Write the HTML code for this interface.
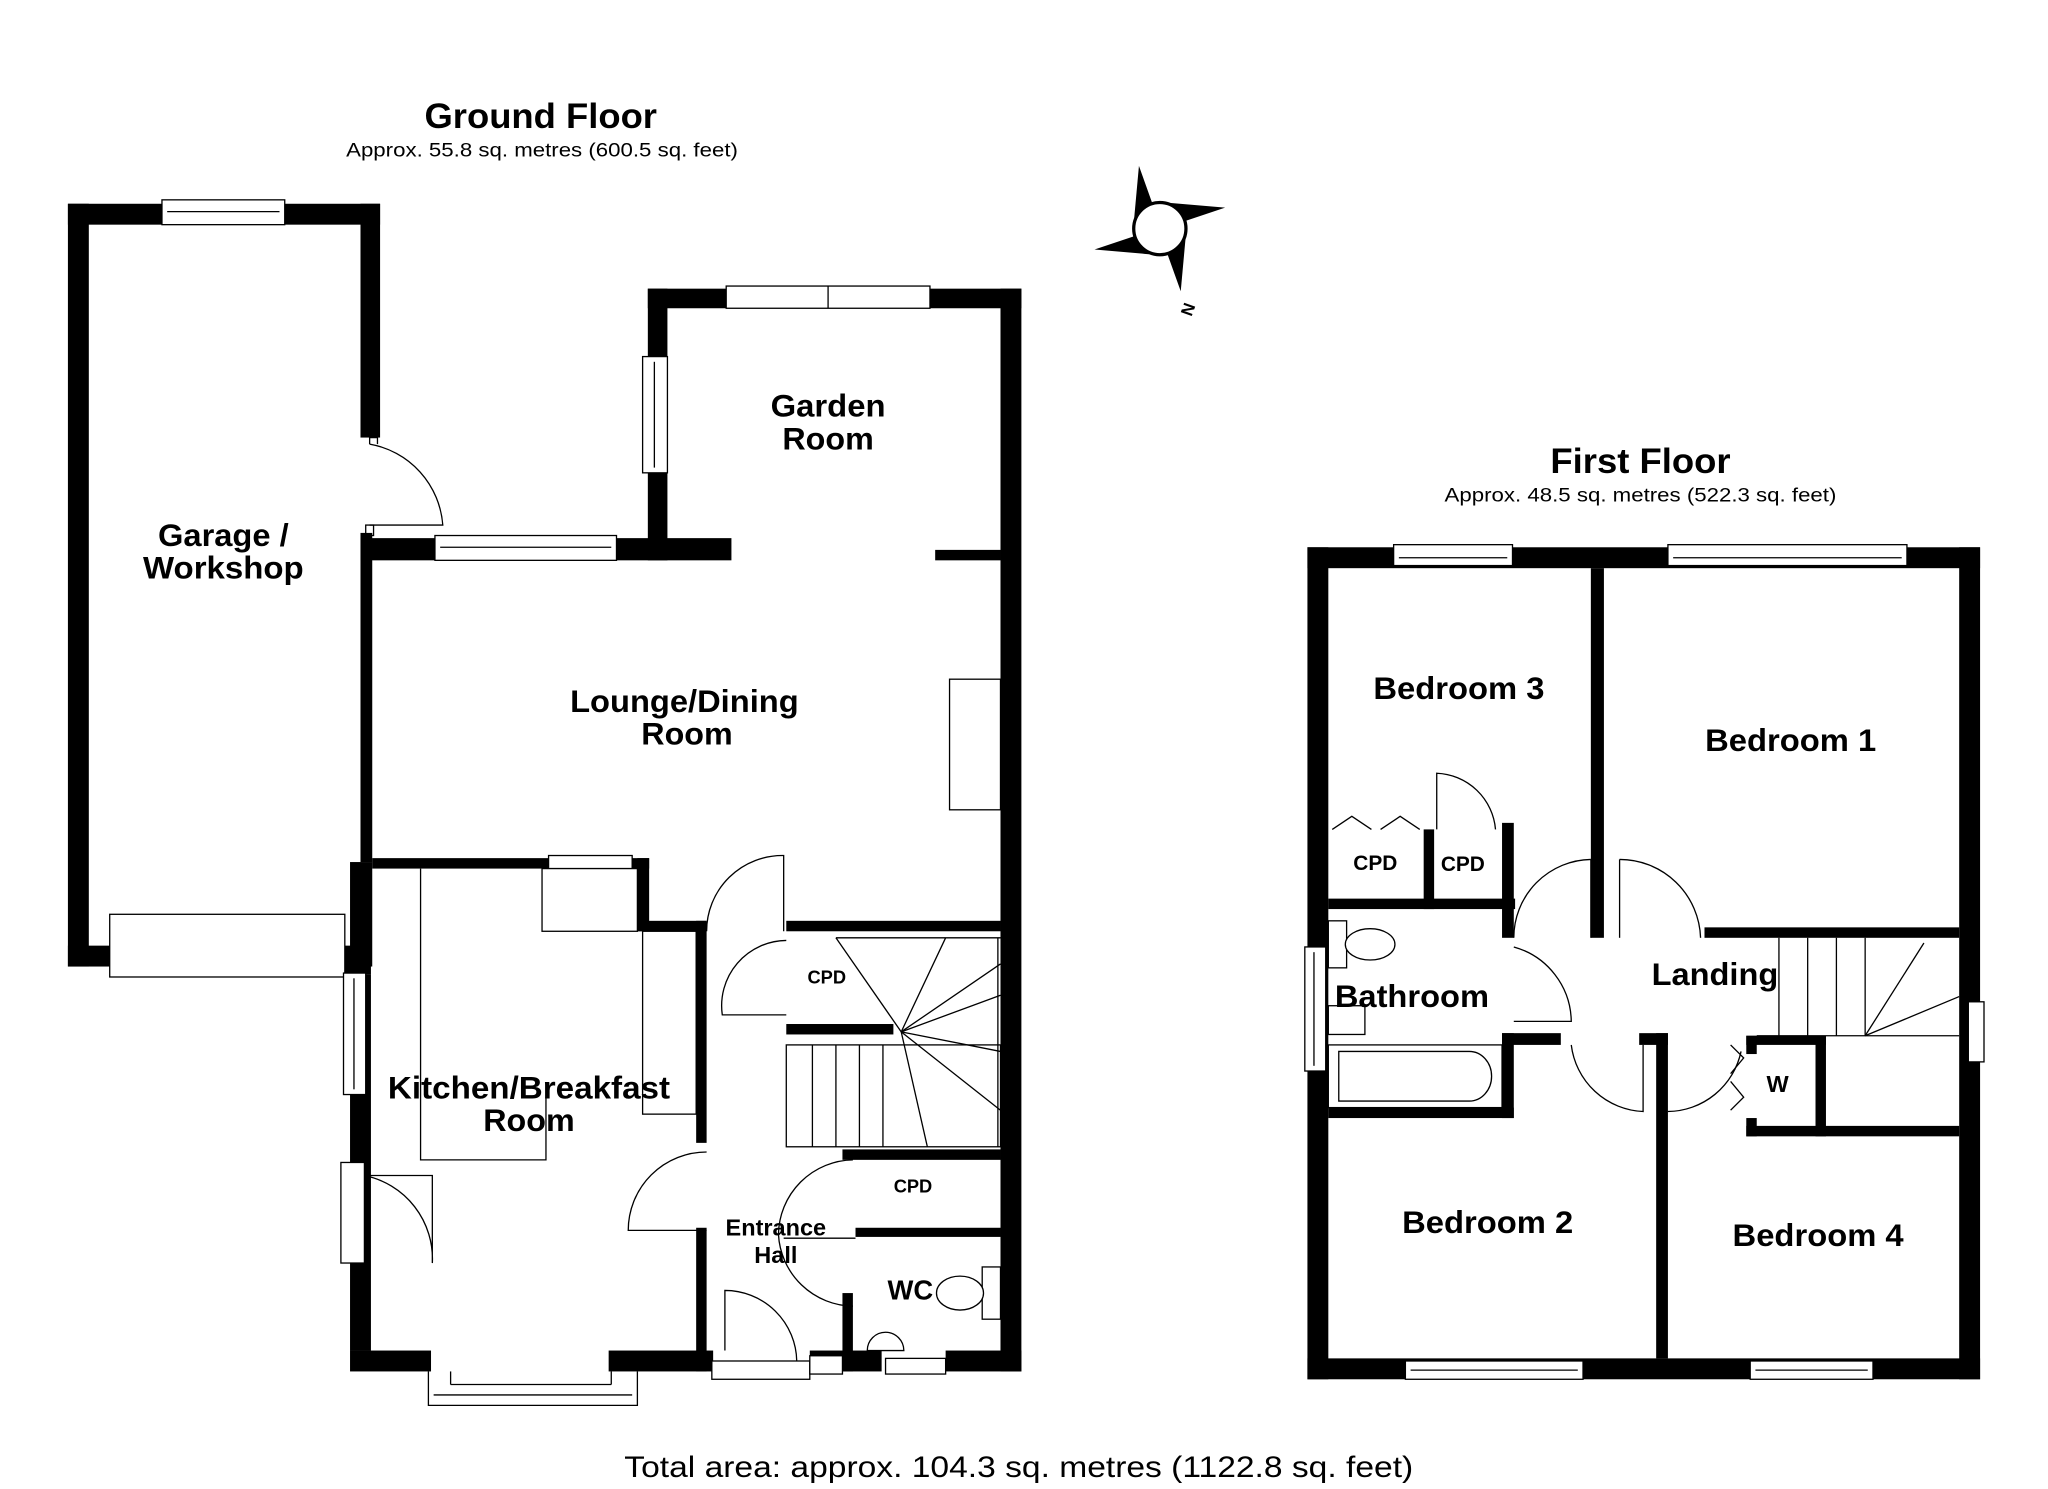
<!DOCTYPE html>
<html><head><meta charset="utf-8"><style>
html,body{margin:0;padding:0;background:#fff;}
svg{display:block;}
text{font-family:"Liberation Sans",Arial,sans-serif;fill:#000;text-anchor:middle;}
.b{font-weight:bold;}
</style></head><body>
<svg width="2048" height="1489" viewBox="0 0 1568 1140" xmlns="http://www.w3.org/2000/svg">
<rect width="1568" height="1140" fill="#fff"/>
<!-- Titles -->
<text x="414" y="98" class="b" font-size="27" textLength="178" lengthAdjust="spacingAndGlyphs">Ground Floor</text>
<text x="415" y="120" font-size="15" textLength="300" lengthAdjust="spacingAndGlyphs">Approx. 55.8 sq. metres (600.5 sq. feet)</text>
<text x="1256" y="362" class="b" font-size="27" textLength="138" lengthAdjust="spacingAndGlyphs">First Floor</text>
<text x="1256" y="384" font-size="15" textLength="300" lengthAdjust="spacingAndGlyphs">Approx. 48.5 sq. metres (522.3 sq. feet)</text>
<text x="780" y="1131" font-size="23" textLength="604" lengthAdjust="spacingAndGlyphs">Total area: approx. 104.3 sq. metres (1122.8 sq. feet)</text>

<!-- Compass -->
<g transform="translate(888,175)">
<polygon points="-16,-48 -6,-20 -20,-4" fill="#000"/>
<polygon points="50,-16 20,-6 4,-20" fill="#000"/>
<polygon points="16,48 6,20 20,4" fill="#000"/>
<polygon points="-50,16 -20,6 -4,20" fill="#000"/>
<circle r="20" fill="#fff" stroke="#000" stroke-width="2.5"/>
<text x="22" y="66" font-size="13" class="b" transform="rotate(-70 22 62)">N</text>
</g>

<g fill="#000">
<!-- Garage -->
<rect x="52" y="156" width="16" height="584"/>
<rect x="52" y="156" width="239" height="16"/>
<rect x="276" y="156" width="15" height="179"/>
<rect x="52" y="724" width="32" height="16"/>
<rect x="264" y="724" width="20" height="22"/>
<!-- Lounge / kitchen left wall -->
<rect x="276" y="408" width="9" height="252"/>
<rect x="268" y="660" width="17" height="80"/>
<rect x="268" y="746" width="16" height="288"/>
<rect x="276" y="412" width="284" height="17"/>
<!-- Garden room -->
<rect x="496" y="221" width="15" height="208"/>
<rect x="496" y="221" width="286" height="15"/>
<rect x="766" y="221" width="16" height="829"/>
<rect x="716" y="421" width="50" height="8"/>
<!-- Kitchen top -->
<rect x="285" y="657" width="212" height="8"/>
<rect x="488" y="657" width="9" height="56"/>
<rect x="488" y="705" width="53" height="8"/>
<rect x="533" y="705" width="8" height="170"/>
<rect x="533" y="940" width="8" height="110"/>
<!-- bottom -->
<rect x="268" y="1034" width="62" height="16"/>
<rect x="466" y="1034" width="80" height="16"/>
<rect x="620" y="1034" width="55" height="16"/>
<rect x="724" y="1034" width="58" height="16"/>
<rect x="645" y="990" width="8" height="60"/>
<!-- hall / stair walls -->
<rect x="602" y="705" width="164" height="8"/>
<rect x="602" y="784" width="82" height="8"/>
<rect x="645" y="880" width="121" height="8"/>
<rect x="655" y="940" width="111" height="7"/>

<!-- First floor outer -->
<rect x="1001" y="419" width="515" height="16"/>
<rect x="1001" y="1040" width="515" height="16"/>
<rect x="1001" y="419" width="16" height="637"/>
<rect x="1500" y="419" width="16" height="637"/>
<!-- partitions -->
<rect x="1218" y="435" width="10" height="283"/>
<rect x="1305" y="710" width="195" height="8"/>
<rect x="1017" y="688" width="143" height="8"/>
<rect x="1090" y="635" width="8" height="61"/>
<rect x="1150" y="630" width="9" height="88"/>
<rect x="1150" y="791" width="45" height="9"/>
<rect x="1150" y="791" width="9" height="65"/>
<rect x="1017" y="848" width="142" height="8"/>
<rect x="1255" y="791" width="22" height="9"/>
<rect x="1268" y="791" width="9" height="249"/>
<rect x="1337" y="862" width="163" height="8"/>
<rect x="1337" y="793" width="8" height="14"/>
<rect x="1337" y="856" width="8" height="14"/>
<rect x="1337" y="793" width="61" height="7"/>
<rect x="1390" y="793" width="8" height="77"/>
</g>

<g fill="#fff" stroke="#000" stroke-width="1">
<!-- GF windows -->
<rect x="124" y="153" width="94" height="19"/>
<line x1="128" y1="162" x2="214" y2="162"/>
<rect x="333" y="410" width="139" height="19"/>
<line x1="337" y1="419" x2="468" y2="419"/>
<rect x="556" y="219" width="156" height="17"/>
<line x1="634" y1="219" x2="634" y2="236"/>
<rect x="492" y="273" width="19" height="89"/>
<line x1="501" y1="277" x2="501" y2="358"/>
<rect x="84" y="700" width="180" height="48"/>
<rect x="263" y="745" width="17" height="93"/>
<line x1="271" y1="749" x2="271" y2="834"/>
<rect x="261" y="890" width="18" height="77"/>
<rect x="420" y="655" width="64" height="10"/>
<polyline points="328,1050 328,1076 488,1076 488,1050"/>
<line x1="332" y1="1068" x2="484" y2="1068"/>
<line x1="345" y1="1050" x2="345" y2="1060"/>
<line x1="345" y1="1060" x2="468" y2="1060"/>
<line x1="468" y1="1050" x2="468" y2="1060"/>
<rect x="545" y="1042" width="75" height="14"/>
<rect x="620" y="1038" width="25" height="14"/>
<rect x="678" y="1040" width="46" height="12"/>
<!-- GF fittings -->
<rect x="727" y="520" width="39" height="100"/>
<rect x="415" y="665" width="73" height="48"/>
<polyline points="322,665 322,888 418,888 418,840"/>
<rect x="492" y="713" width="41" height="140"/>
<rect x="752" y="970" width="14" height="40"/>
<ellipse cx="735" cy="990" rx="18" ry="13"/>
<path d="M664,1034 a14,14 0 0 1 28,0 z"/>
<!-- FF windows -->
<rect x="1067" y="417" width="91" height="16"/>
<line x1="1071" y1="427" x2="1154" y2="427"/>
<rect x="1277" y="417" width="183" height="16"/>
<line x1="1281" y1="427" x2="1456" y2="427"/>
<rect x="1076" y="1042" width="136" height="14"/>
<line x1="1080" y1="1049" x2="1208" y2="1049"/>
<rect x="1340" y="1042" width="94" height="14"/>
<line x1="1344" y1="1049" x2="1430" y2="1049"/>
<rect x="999" y="725" width="16" height="95"/>
<line x1="1006" y1="729" x2="1006" y2="816"/>
<rect x="1507" y="767" width="12" height="46"/>
<!-- FF fittings -->
<rect x="1017" y="705" width="14" height="36"/>
<ellipse cx="1049" cy="723" rx="19" ry="12"/>
<rect x="1017" y="770" width="28" height="22"/>
<rect x="1017" y="800" width="133" height="48"/>
<path d="M1025,805 H1125 a17,19 0 0 1 0,38 H1025 Z"/>
</g>

<!-- door arcs & stairs -->
<g fill="none" stroke="#000" stroke-width="1">
<path d="M283,340 v-5 h6 v5 M283,340 A68,68 0 0 1 339,402 H283"/>
<rect x="280" y="402" width="6" height="8"/>
<path d="M279,900 A65,65 0 0 1 331,967 V900 H279"/>
<path d="M600,713 V655 A58,58 0 0 0 541,713"/>
<path d="M602,720 A50,50 0 0 0 553,777 H602"/>
<path d="M541,882 A60,60 0 0 0 481,942 H541"/>
<path d="M653,888 A58,58 0 0 0 596,945 A58,58 0 0 0 653,1000"/>
<path d="M555,1034 V988 A55,55 0 0 1 610,1042"/>
<line x1="600" y1="948" x2="655" y2="948"/>
<!-- GF stairs -->
<rect x="602" y="800" width="164" height="78"/>
<line x1="622" y1="800" x2="622" y2="878"/>
<line x1="640" y1="800" x2="640" y2="878"/>
<line x1="658" y1="800" x2="658" y2="878"/>
<line x1="676" y1="800" x2="676" y2="878"/>
<line x1="690" y1="790" x2="710" y2="878"/>
<line x1="690" y1="790" x2="766" y2="850"/>
<line x1="690" y1="790" x2="766" y2="805"/>
<line x1="690" y1="790" x2="766" y2="762"/>
<line x1="690" y1="790" x2="766" y2="738"/>
<line x1="690" y1="790" x2="724" y2="718"/>
<line x1="690" y1="790" x2="640" y2="718"/>
<line x1="640" y1="718" x2="766" y2="718"/>
<line x1="764" y1="718" x2="764" y2="878"/>
<!-- FF doors -->
<path d="M1218,658 A60,60 0 0 0 1159,718"/>
<line x1="1218" y1="658" x2="1218" y2="718"/>
<path d="M1240,658 A62,62 0 0 1 1302,718"/>
<line x1="1240" y1="658" x2="1240" y2="718"/>
<path d="M1159,725 A60,60 0 0 1 1203,782 H1159"/>
<path d="M1203,800 A58,58 0 0 0 1258,851 V800"/>
<path d="M1277,851 A58,58 0 0 0 1333,805"/>
<path d="M1100,635 V592 A47,47 0 0 1 1145,635"/>
<path d="M1020,635 l15,-10 l15,10 M1057,635 l15,-10 l15,10"/>
<path d="M1325,800 l10,10 l-10,12 M1325,850 l10,-10 l-10,-12"/>
<!-- FF stairs -->
<line x1="1345" y1="793" x2="1500" y2="793"/>
<line x1="1362" y1="718" x2="1362" y2="793"/>
<line x1="1384" y1="718" x2="1384" y2="793"/>
<line x1="1406" y1="718" x2="1406" y2="793"/>
<line x1="1428" y1="718" x2="1428" y2="793"/>
<line x1="1428" y1="793" x2="1500" y2="763"/>
<line x1="1428" y1="793" x2="1473" y2="722"/>
</g>

<!-- Labels -->
<g class="b" font-size="24" font-weight="bold">
<text x="171" y="418" textLength="100" lengthAdjust="spacingAndGlyphs">Garage /</text>
<text x="171" y="443" textLength="123" lengthAdjust="spacingAndGlyphs">Workshop</text>
<text x="634" y="319" textLength="88" lengthAdjust="spacingAndGlyphs">Garden</text>
<text x="634" y="344" textLength="70" lengthAdjust="spacingAndGlyphs">Room</text>
<text x="524" y="545" textLength="175" lengthAdjust="spacingAndGlyphs">Lounge/Dining</text>
<text x="526" y="570" textLength="70" lengthAdjust="spacingAndGlyphs">Room</text>
<text x="405" y="841" textLength="216" lengthAdjust="spacingAndGlyphs">Kitchen/Breakfast</text>
<text x="405" y="866" textLength="70" lengthAdjust="spacingAndGlyphs">Room</text>
<text x="697" y="995" font-size="21">WC</text>
<text x="594" y="946" font-size="18">Entrance</text>
<text x="594" y="967" font-size="18">Hall</text>
<text x="633" y="753" font-size="14">CPD</text>
<text x="699" y="913" font-size="14">CPD</text>
<text x="1117" y="535" textLength="131" lengthAdjust="spacingAndGlyphs">Bedroom 3</text>
<text x="1371" y="575" textLength="131" lengthAdjust="spacingAndGlyphs">Bedroom 1</text>
<text x="1081" y="771" textLength="118" lengthAdjust="spacingAndGlyphs">Bathroom</text>
<text x="1313" y="754" textLength="97" lengthAdjust="spacingAndGlyphs">Landing</text>
<text x="1139" y="944" textLength="131" lengthAdjust="spacingAndGlyphs">Bedroom 2</text>
<text x="1392" y="954" textLength="131" lengthAdjust="spacingAndGlyphs">Bedroom 4</text>
<text x="1053" y="666" font-size="16">CPD</text>
<text x="1120" y="667" font-size="16">CPD</text>
<text x="1361" y="836" font-size="18">W</text>
</g>
</svg>
</body></html>
